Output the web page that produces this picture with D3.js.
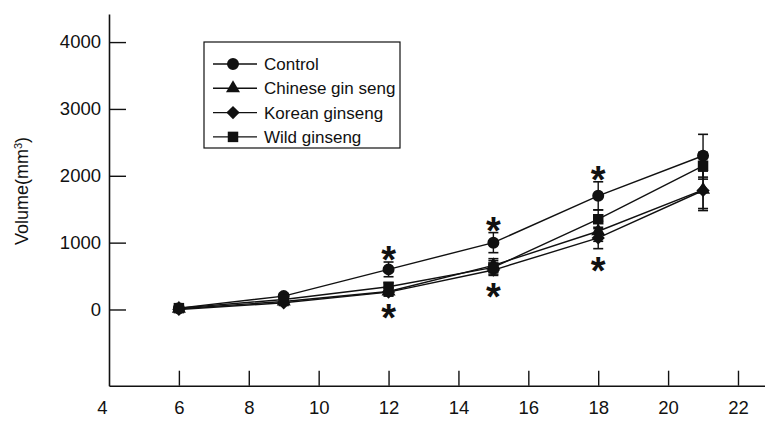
<!DOCTYPE html>
<html>
<head>
	<meta charset="utf-8">
	<title>Tumor volume</title>
	<script src="https://d3js.org/d3.v7.min.js"></script>
	<style>
		body { margin: 0; background: #fff; }
		text { font-family: "Liberation Sans", Arial, Helvetica, sans-serif; fill: #111; }
	</style>
</head>
<body>
	<script>
			// days after implantation
			var days = [6, 9, 12, 15, 18, 21];

			// mean volume (mm3) and error per group
			var control = [20, 200, 600, 1000, 1700, 2300];
			var controlErr = [30, 40, 110, 150, 210, 320];
			var chinese = [10, 120, 270, 660, 1170, 1790];
			var chineseErr = [20, 40, 60, 100, 150, 280];
			var korean = [0, 100, 260, 590, 1070, 1780];
			var koreanErr = [20, 40, 60, 80, 160, 300];
			var wild = [20, 150, 340, 630, 1350, 2150];
			var wildErr = [20, 40, 60, 100, 140, 200];

			var names = ["Control", "Chinese gin seng", "Korean ginseng", "Wild ginseng"];
			var xTicks = [4, 6, 8, 10, 12, 14, 16, 18, 20, 22];
			var yTicks = [0, 1000, 2000, 3000, 4000];
			var starDays = [12, 15, 18];

			var series = [
				{ name: names[0], values: control, err: controlErr, shape: "circle" },
				{ name: names[1], values: chinese, err: chineseErr, shape: "triangle" },
				{ name: names[2], values: korean, err: koreanErr, shape: "diamond" },
				{ name: names[3], values: wild, err: wildErr, shape: "square" }
			];

			var svg = d3.select("body").append("svg")
							.attr("width", 765)
							.attr("height", 421);

			var x = d3.scaleLinear()
						.domain([4, 22.773])
						.range([109, 765]);

			var y = d3.scaleLinear()
						.domain([-1140, 4420])
						.range([385.7, 14]);

			function symbolPath(shape) {
				if (shape == "circle") return d3.symbol().type(d3.symbolCircle).size(113)();
				if (shape == "triangle") return d3.symbol().type(d3.symbolTriangle).size(85)();
				if (shape == "diamond") return d3.symbol().type(d3.symbolSquare).size(88)();
				return d3.symbol().type(d3.symbolSquare).size(110)();
			}
			function symbolRotate(shape) {
				return shape == "diamond" ? " rotate(45)" : "";
			}

			// axes
			var xAxis = d3.axisBottom(x)
						.tickValues(xTicks)
						.tickSizeInner(-15)
						.tickSizeOuter(0)
						.tickPadding(15)
						.tickFormat(d3.format("d"));

			var gx = svg.append("g")
						.attr("transform", "translate(0,385.7)")
						.call(xAxis);
			gx.selectAll(".tick").filter(function (d) { return d == 4; })
				.each(function () {
					d3.select(this).select("line").remove();
					d3.select(this).select("text").attr("dx", -7);
				});

			var yAxis = d3.axisLeft(y)
						.tickValues(yTicks)
						.tickSizeInner(-17)
						.tickSizeOuter(0)
						.tickPadding(8)
						.tickFormat(d3.format("d"));

			var gy = svg.append("g")
						.attr("transform", "translate(109,0)")
						.call(yAxis);

			svg.selectAll(".domain").attr("stroke", "#111").attr("stroke-width", 1.6);
			svg.selectAll(".tick line").attr("stroke", "#111").attr("stroke-width", 1.4);
			svg.selectAll(".tick text").attr("font-size", 18.5).attr("fill", "#111")
				.style("font-family", "'Liberation Sans', Arial, sans-serif");

			var yTitle = svg.append("text")
						.attr("transform", "translate(28,191) rotate(-90)")
						.attr("text-anchor", "middle")
						.attr("font-size", 18);
			yTitle.append("tspan").text("Volume(mm");
			yTitle.append("tspan").attr("baseline-shift", "super").attr("font-size", 11).text("3");
			yTitle.append("tspan").text(")");

			// lines
			var line = d3.line()
						.x(function (d, i) { return x(days[i]); })
						.y(function (d) { return y(d); });

			svg.selectAll(".series-line")
				.data(series)
				.enter()
				.append("path")
				.attr("class", "series-line")
				.attr("d", function (s) { return line(s.values); })
				.attr("fill", "none")
				.attr("stroke", "#111")
				.attr("stroke-width", 1.4);

			// error bars
			series.forEach(function (s) {
				var g = svg.append("g");
				s.values.forEach(function (v, i) {
					var cx = x(days[i]);
					var top = y(v + s.err[i]), bot = y(v - s.err[i]);
					g.append("line").attr("x1", cx).attr("x2", cx).attr("y1", top).attr("y2", bot)
						.attr("stroke", "#111").attr("stroke-width", 1.4);
					[top, bot].forEach(function (yy) {
						g.append("line").attr("x1", cx - 5).attr("x2", cx + 5).attr("y1", yy).attr("y2", yy)
							.attr("stroke", "#111").attr("stroke-width", 1.6);
					});
				});
			});

			// markers
			series.forEach(function (s) {
				svg.append("g").selectAll("path")
					.data(s.values)
					.enter()
					.append("path")
					.attr("d", symbolPath(s.shape))
					.attr("transform", function (d, i) { return "translate(" + x(days[i]) + "," + y(d) + ")" + symbolRotate(s.shape); })
					.attr("fill", "#111");
			});

			// significance marks
			starDays.forEach(function (day) {
				var i = days.indexOf(day);
				var hi = d3.max(series, function (s) { return s.values[i] + s.err[i]; });
				var lo = d3.min(series, function (s) { return s.values[i] - s.err[i]; });
				svg.append("text").attr("x", x(day)).attr("y", y(hi) - 10 + 21)
					.attr("text-anchor", "middle").attr("font-size", 38).attr("font-weight", "bold").text("*");
				svg.append("text").attr("x", x(day)).attr("y", y(lo) + 14 + 21)
					.attr("text-anchor", "middle").attr("font-size", 38).attr("font-weight", "bold").text("*");
			});

			// legend
			var legend = svg.append("g");
			legend.append("rect")
				.attr("x", 204).attr("y", 42).attr("width", 196).attr("height", 106)
				.attr("fill", "#fff").attr("stroke", "#111").attr("stroke-width", 1.2);

			var items = legend.selectAll(".item")
							.data(series)
							.enter()
							.append("g")
							.attr("class", "item")
							.attr("transform", function (d, i) { return "translate(0," + (64 + i * 24.3) + ")"; });

			items.append("line").attr("x1", 213).attr("x2", 257).attr("y1", 0).attr("y2", 0)
				.attr("stroke", "#111").attr("stroke-width", 1.4);
			items.append("path")
				.attr("d", function (s) { return symbolPath(s.shape); })
				.attr("transform", function (s) { return "translate(233,0)" + symbolRotate(s.shape); })
				.attr("fill", "#111");
			items.append("text")
				.attr("x", 264).attr("y", 6)
				.attr("font-size", 17)
				.text(function (s) { return s.name; });

	</script>
</body>
</html>
